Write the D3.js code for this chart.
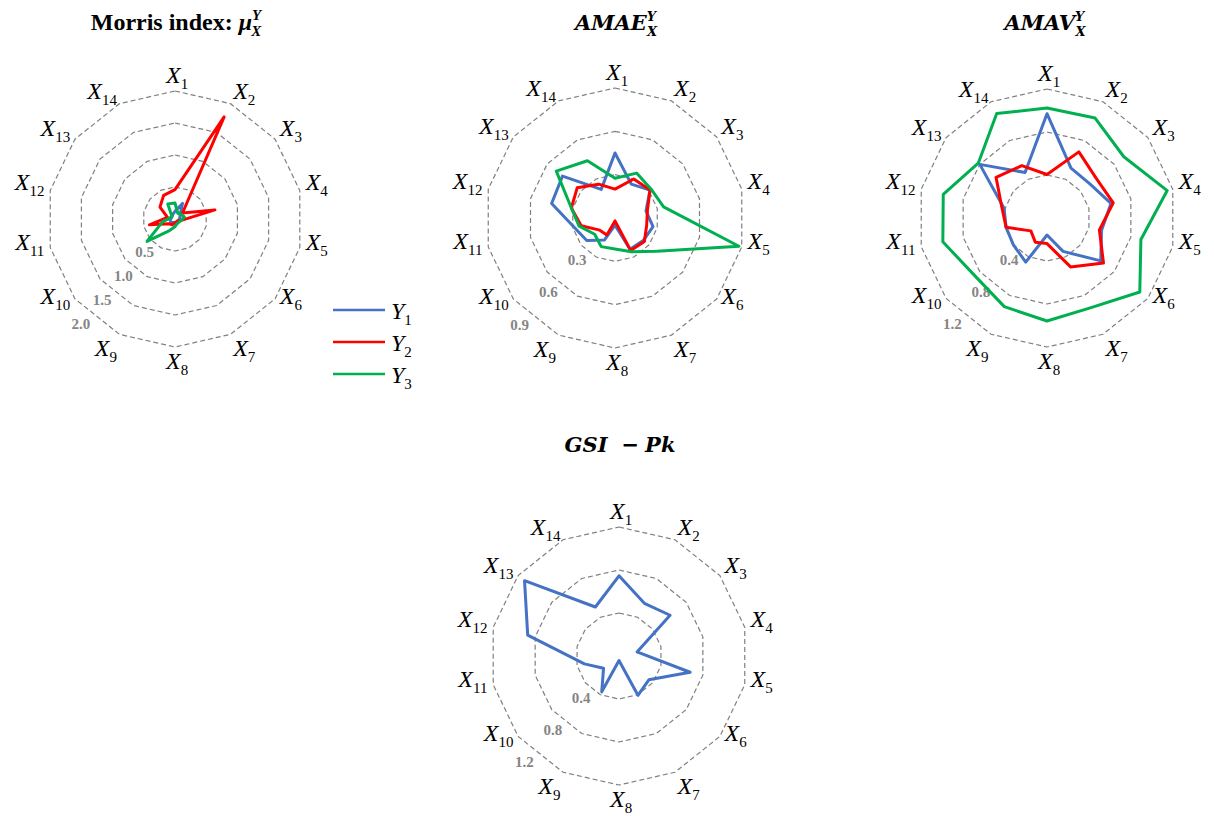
<!DOCTYPE html>
<html>
<head>
<meta charset="utf-8">
<script src="https://cdn.jsdelivr.net/npm/d3@7"></script>
<style>
  body { margin: 0; background: #fff; }
</style>
</head>
<body>
<div id="my_dataviz"></div>
<script>
// axis names X1..X14 (subscripts)
var axisLabels = ["1","2","3","4","5","6","7","8","9","10","11","12","13","14"];

// Morris index
var morrisY1 = [0.12, 0.27, 0.10, 0.08, 0.06, 0.05, 0.05, 0.05, 0.06, 0.08, 0.08, 0.06, 0.06, 0.08];
var morrisY2 = [0.46, 1.77, 0.15, 0.64, 0.10, 0.05, 0.05, 0.06, 0.10, 0.12, 0.41, 0.12, 0.30, 0.41];
var morrisY3 = [0.25, 0.10, 0.12, 0.15, 0.10, 0.08, 0.08, 0.12, 0.20, 0.56, 0.20, 0.08, 0.06, 0.26];
var morrisTicks = [0.5, 1.0, 1.5, 2.0];

// AMAE
var amaeY1 = [0.45, 0.26, 0.31, 0.22, 0.27, 0.25, 0.24, 0.05, 0.17, 0.25, 0.29, 0.45, 0.465, 0.22];
var amaeY2 = [0.20, 0.30, 0.31, 0.23, 0.225, 0.26, 0.25, 0.02, 0.13, 0.135, 0.24, 0.31, 0.335, 0.26];
var amaeY3 = [0.275, 0.345, 0.32, 0.345, 0.88, 0.37, 0.26, 0.215, 0.22, 0.18, 0.255, 0.31, 0.52, 0.44];
var amaeTicks = [0.3, 0.6, 0.9];

// AMAV
var amavY1 = [0.97, 0.515, 0.51, 0.61, 0.52, 0.64, 0.345, 0.158, 0.456, 0.40, 0.39, 0.41, 0.80, 0.47];
var amavY2 = [0.405, 0.683, 0.588, 0.632, 0.50, 0.672, 0.505, 0.238, 0.25, 0.192, 0.39, 0.43, 0.606, 0.54];
var amavY3 = [1.023, 1.032, 0.914, 1.147, 0.896, 1.104, 0.928, 0.958, 0.915, 0.86, 0.994, 0.99, 0.818, 1.078];
var amavTicks = [0.4, 0.8, 1.2];

// GSI - Pk
var gsiY1 = [0.746, 0.544, 0.608, 0.172, 0.679, 0.355, 0.406, 0.042, 0.37, 0.184, 0.33, 0.871, 1.124, 0.506];
var gsiTicks = [0.4, 0.8, 1.2];

var seriesNames = ["1", "2", "3"];
var colors = ["#4472C4", "#FF0000", "#00B050"];

var width = 1214, height = 816;

var svg = d3.select("#my_dataviz")
  .append("svg")
    .attr("width", width)
    .attr("height", height)
    .style("font-family", "'Liberation Serif', 'Times New Roman', serif");

// panel layout
var panels = [
  {cx: 175, cy: 219, R: 128, ticks: morrisTicks, series: [morrisY1, morrisY2, morrisY3]},
  {cx: 615, cy: 218, R: 130, ticks: amaeTicks, series: [amaeY1, amaeY2, amaeY3]},
  {cx: 1047, cy: 218, R: 129, ticks: amavTicks, series: [amavY1, amavY2, amavY3]},
  {cx: 619, cy: 656, R: 129, ticks: gsiTicks, series: [gsiY1]}
];

var angle = d3.scaleLinear()
  .domain([0, axisLabels.length])
  .range([0, 2 * Math.PI]);

var tickAngle = 221.5 * Math.PI / 180;

panels.forEach(function(p) {
  var g = svg.append("g")
    .attr("transform", "translate(" + p.cx + "," + p.cy + ")");

  var r = d3.scaleLinear()
    .domain([0, d3.max(p.ticks)])
    .range([0, p.R]);

  // dashed polygon rings
  g.selectAll(".ring")
    .data(p.ticks)
    .enter()
    .append("path")
      .attr("d", function(t) {
        return d3.lineRadial()
          .angle(function(d, i) { return angle(i); })
          .radius(r(t))
          .curve(d3.curveLinearClosed)(axisLabels);
      })
      .attr("fill", "none")
      .attr("stroke", "#808080")
      .attr("stroke-width", 1.2)
      .attr("stroke-dasharray", "5,3");

  // tick labels
  g.selectAll(".tick")
    .data(p.ticks)
    .enter()
    .append("text")
      .attr("x", function(t) { return Math.sin(tickAngle) * (r(t) + 14); })
      .attr("y", function(t) { return -Math.cos(tickAngle) * (r(t) + 14) + 4; })
      .attr("text-anchor", "middle")
      .style("font-size", "15px")
      .style("font-weight", "bold")
      .style("fill", "#858585")
      .text(function(t) { return d3.format(".1f")(t); });

  // series
  p.series.forEach(function(vals, k) {
    g.append("path")
      .datum(vals)
      .attr("d", d3.lineRadial()
        .angle(function(d, i) { return angle(i); })
        .radius(function(d) { return r(d); })
        .curve(d3.curveLinearClosed))
      .attr("fill", "none")
      .attr("stroke", colors[k])
      .attr("stroke-width", 3)
      .attr("stroke-linejoin", "round");
  });

  // axis labels X_i: left-aligned on the right side, right-aligned on the left side
  axisLabels.forEach(function(lab, i) {
    var a = angle(i), s = Math.sin(a), c = Math.cos(a);
    var Rl = p.R + 6;
    var x = s * Rl;
    var yc = -c * Rl + (c > 0.95 ? -7 : (c < -0.85 ? 11 : -4));
    var anchor = s < -0.05 ? "end" : "start";
    if (Math.abs(s) < 0.05) x = -9;
    var t = g.append("text")
      .attr("x", x)
      .attr("y", yc + 5)
      .attr("text-anchor", anchor)
      .style("font-size", "24px")
      .style("font-style", "italic");
    t.append("tspan").text("X");
    t.append("tspan")
      .attr("dy", 6)
      .style("font-size", "15px")
      .style("font-style", "normal")
      .text(lab);
  });
});

// titles
var t1 = svg.append("text")
  .attr("x", 176).attr("y", 30)
  .attr("text-anchor", "middle")
  .style("font-size", "24px")
  .style("font-weight", "bold");
t1.append("tspan").text("Morris index: ");
t1.append("tspan").style("font-style", "italic").text("\u03BC");
t1.append("tspan").attr("dy", -10).style("font-size", "15px").style("font-style", "italic").text("Y");
t1.append("tspan").attr("dx", -10).attr("dy", 16).style("font-size", "15px").style("font-style", "italic").text("X");

function mathTitle(x, y, main) {
  var t = svg.append("text")
    .attr("x", x).attr("y", y)
    .attr("text-anchor", "middle")
    .style("font-family", "'DejaVu Serif', serif")
    .style("font-size", "21px")
    .style("font-weight", "bold")
    .style("font-style", "italic");
  t.append("tspan").text(main);
  t.append("tspan").attr("dy", -9).style("font-size", "13px").text("Y");
  t.append("tspan").attr("dx", -9).attr("dy", 15).style("font-size", "13px").text("X");
}
mathTitle(616, 30, "AMAE");
mathTitle(1045, 30, "AMAV");

var t4 = svg.append("text")
  .attr("x", 620).attr("y", 452)
  .attr("text-anchor", "middle")
  .style("font-family", "'DejaVu Serif', serif")
  .style("font-size", "21px")
  .style("font-weight", "bold")
  .style("font-style", "italic");
t4.append("tspan").text("GSI");
t4.append("tspan").attr("dx", 14).text("\u2212");
t4.append("tspan").attr("dx", 6).text("Pk");

// legend
var legend = svg.append("g");
seriesNames.forEach(function(s, k) {
  var ly = 310 + k * 32;
  legend.append("line")
    .attr("x1", 333).attr("x2", 385)
    .attr("y1", ly).attr("y2", ly)
    .attr("stroke", colors[k])
    .attr("stroke-width", 2.5);
  var lt = legend.append("text")
    .attr("x", 391).attr("y", ly + 9)
    .style("font-size", "24px")
    .style("font-style", "italic");
  lt.append("tspan").text("Y");
  lt.append("tspan").attr("dy", 6).style("font-size", "15px").style("font-style", "normal").text(s);
});
</script>
</body>
</html>
